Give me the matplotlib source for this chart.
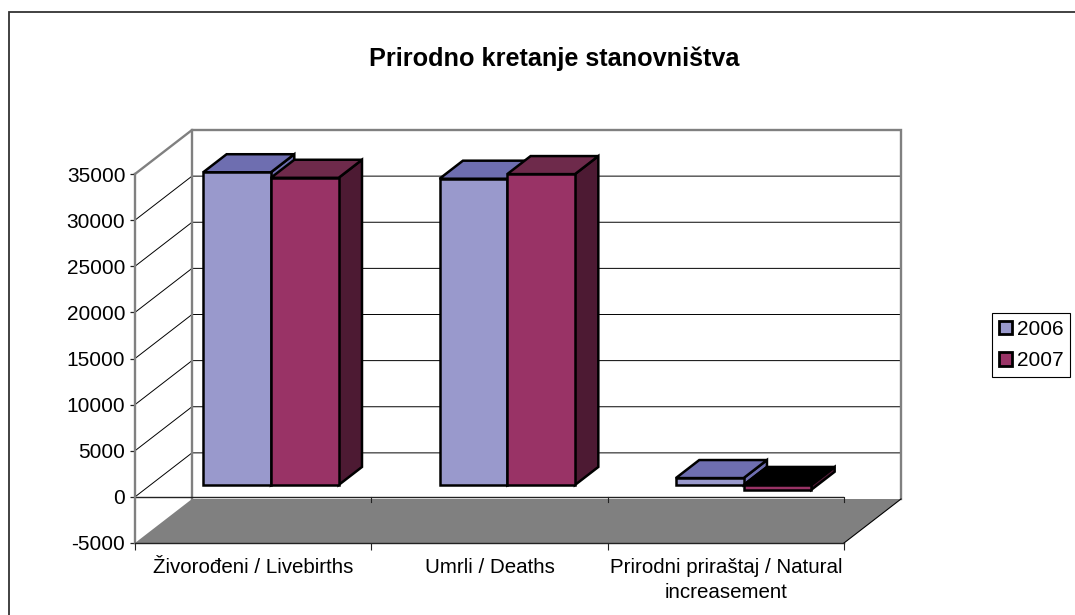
#!/usr/bin/env python3
import matplotlib
matplotlib.use('Agg')
import matplotlib.pyplot as plt
from matplotlib.lines import Line2D
from matplotlib.patches import Polygon, Patch

plt.rcParams['font.family'] = ['Liberation Sans', 'DejaVu Sans']
plt.rcParams['axes.unicode_minus'] = False

# data
categories = ['Živorođeni / Livebirths', 'Umrli / Deaths',
              'Prirodni priraštaj / Natural\nincreasement']
years = ['2006', '2007']
values_2006 = [33900, 33200, 750]
values_2007 = [33300, 33700, -520]
y_ticks = [-5000, 0, 5000, 10000, 15000, 20000, 25000, 30000, 35000]

W, H = 1075, 615
PLOT_L, PLOT_R, PLOT_T, PLOT_B = 135, 844, 174, 543
DEPTH_PX = (57, 44)  # oblique offset of the back wall

front_face = ['#9999CC', '#993366']
top_face = ['#6E6EB0', '#6E2A4B']
side_face = ['#6E6EB0', '#4D1A33']
neg_top = ['#000000', '#000000']

fig = plt.figure(figsize=(W / 100, H / 100), dpi=100, facecolor='white')
# chart area border, only top and left reach inside the picture
fig.add_artist(Line2D([8.5 / W, 8.5 / W, 1.0], [0, 1 - 11.5 / H, 1 - 11.5 / H],
                      transform=fig.transFigure, color='#333333', linewidth=1.3,
                      solid_joinstyle='miter'))

ax = fig.add_axes([PLOT_L / W, 1 - PLOT_B / H, (PLOT_R - PLOT_L) / W, (PLOT_B - PLOT_T) / H])
ax.set_xlim(0, 3)
ax.set_ylim(-5000, 35000)
ax.patch.set_visible(False)

dx = DEPTH_PX[0] * 3 / (PLOT_R - PLOT_L)
dy = DEPTH_PX[1] * 40000 / (PLOT_B - PLOT_T)


def proj(x, y, d):
    # x in category units, y in value units, d 0 front .. 1 back
    return (x + d * dx, y + d * dy)


def poly(points, **kw):
    kw.setdefault('clip_on', False)
    p = Polygon(points, closed=True, **kw)
    ax.add_patch(p)
    return p


# floor
poly([proj(0, -5000, 0), proj(3, -5000, 0), proj(3, -5000, 1), proj(0, -5000, 1)],
     facecolor='#808080', edgecolor='none', zorder=1)
ax.plot(*zip(proj(3, -5000, 0), proj(3, -5000, 1)), color='black', lw=0.8, clip_on=False, zorder=1.5)

# gridlines on the wall and the side
for t in y_ticks[1:-1]:
    ax.plot(*zip(proj(0, t, 0), proj(0, t, 1), proj(3, t, 1)),
            color='black', lw=0.7, clip_on=False, zorder=1.2)

# wall outline
gray = '#808080'
ax.plot(*zip(proj(0, 35000, 0), proj(0, 35000, 1), proj(3, 35000, 1), proj(3, -5000, 1)),
        color=gray, lw=1.7, clip_on=False, zorder=1.3, solid_joinstyle='miter')
ax.plot(*zip(proj(0, 35000, 1), proj(0, -5000, 1)),
        color=gray, lw=1.7, clip_on=False, zorder=1.3)

# zero line
ax.axhline(0, color='#222222', lw=1.0, zorder=2)
for x in [1, 2, 3]:
    ax.plot([x, x], [0, -600], color='#222222', lw=0.8, zorder=2, clip_on=False)

# bars
d0, d1 = 0.27, 0.68
bar_w = 67.7 * 3 / (PLOT_R - PLOT_L)
gap = (1 - 2 * bar_w) / 2 + 0.01
lw = 1.8
z = 3
for c in range(len(categories)):
    for s, vals in enumerate([values_2006, values_2007]):
        v = vals[c]
        x0 = c + gap + s * bar_w
        x1 = x0 + bar_w
        lo, hi = min(v, 0), max(v, 0)
        kw = dict(edgecolor='black', linewidth=lw, joinstyle='miter', zorder=z)
        poly([proj(x1, lo, d0), proj(x1, lo, d1), proj(x1, hi, d1), proj(x1, hi, d0)],
             facecolor=side_face[s], **kw)
        top = neg_top[s] if v < 0 else top_face[s]
        poly([proj(x0, hi, d0), proj(x1, hi, d0), proj(x1, hi, d1), proj(x0, hi, d1)],
             facecolor=top, **kw)
        poly([proj(x0, lo, d0), proj(x1, lo, d0), proj(x1, hi, d0), proj(x0, hi, d0)],
             facecolor=front_face[s], **kw)
        z += 0.1

# axes
for side in ['top', 'right']:
    ax.spines[side].set_visible(False)
ax.spines['left'].set_color(gray)
ax.spines['left'].set_linewidth(1.7)
ax.spines['bottom'].set_color('#222222')
ax.spines['bottom'].set_linewidth(1.0)
ax.set_yticks(y_ticks)
ax.tick_params(axis='y', labelsize=15, length=3.5, width=0.9, color='#222222', pad=3.5)
ax.set_xticks([0, 1, 2, 3])
ax.set_xticklabels([])
ax.tick_params(axis='x', which='major', length=5, width=0.8, color='#222222')
ax.set_xticks([0.5, 1.5, 2.5], minor=True)
ax.set_xticklabels(categories, minor=True, fontsize=14.8, linespacing=1.45)
ax.tick_params(axis='x', which='minor', length=0, pad=10.5)

fig.text(554.5 / W, 1 - 59 / H, 'Prirodno kretanje stanovništva', ha='center', va='center',
         fontsize=18.2, fontweight='bold')

handles = [Patch(facecolor=front_face[i], edgecolor='black', linewidth=2, label=years[i])
           for i in range(2)]
leg = fig.legend(handles=handles, loc='center left', bbox_to_anchor=(992 / W, 1 - 345 / H),
                 fontsize=15, frameon=True, fancybox=False, edgecolor='black', framealpha=1,
                 handlelength=0.62, handleheight=0.62, handletextpad=0.25, borderpad=0.32,
                 labelspacing=0.6, borderaxespad=0)
leg.get_frame().set_linewidth(0.8)

fig.savefig('out.png', dpi=100, facecolor='white')
